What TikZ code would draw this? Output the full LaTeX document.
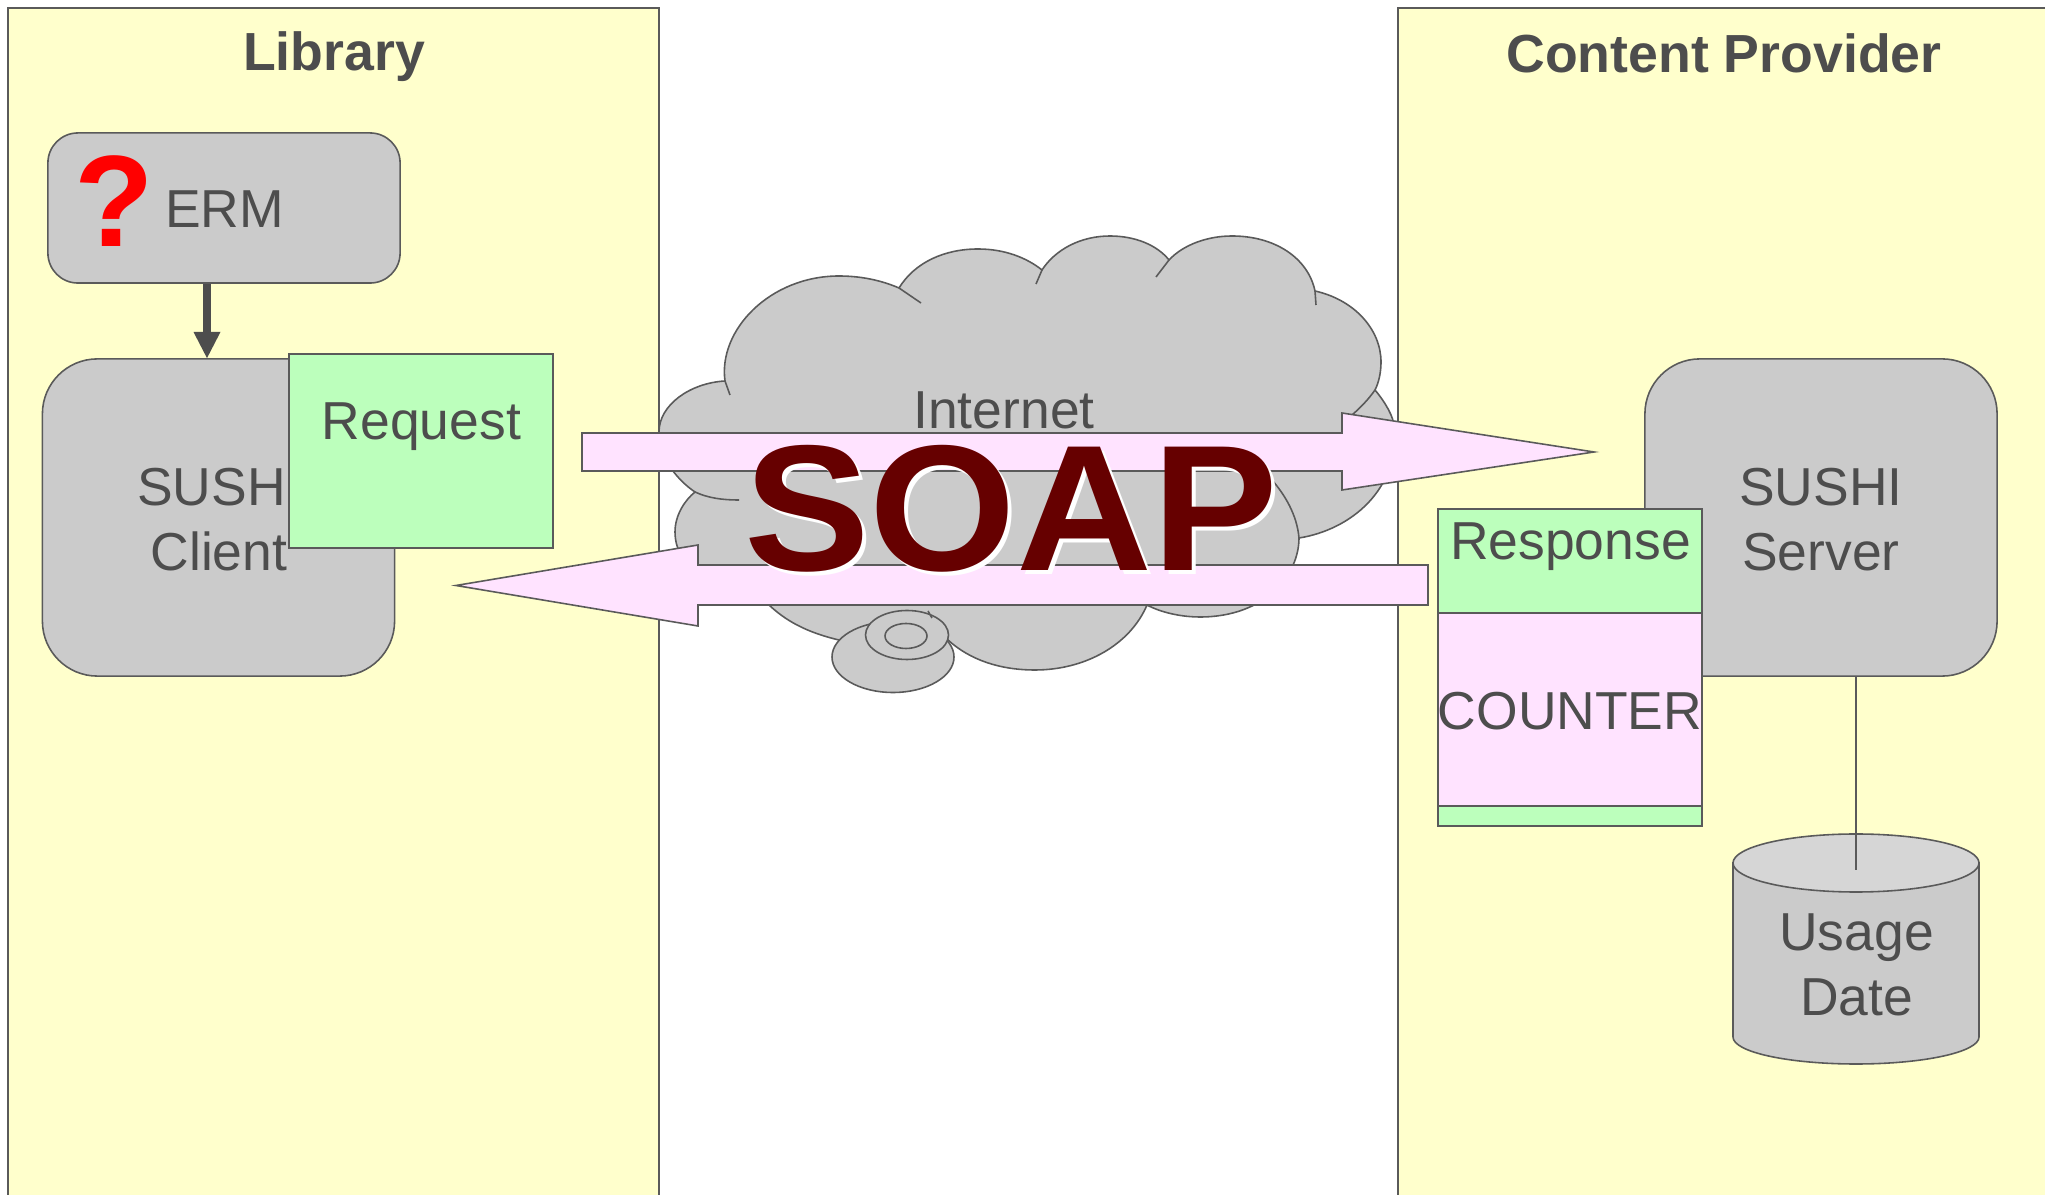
\documentclass[tikz,border=0pt]{standalone}
\usepackage{fontspec}
\setmainfont{Liberation Sans}
\usepackage{xcolor}

\definecolor{panelyellow}{HTML}{FFFFCC}
\definecolor{edgegrey}{HTML}{5A5A5A}
\definecolor{textgrey}{HTML}{4D4D4D}
\definecolor{boxgrey}{HTML}{CBCBCB}
\definecolor{topgrey}{HTML}{D6D6D6}
\definecolor{msggreen}{HTML}{BCFFBC}
\definecolor{msgpink}{HTML}{FFE3FF}
\definecolor{soapred}{HTML}{660000}

\tikzset{
  outline/.style={draw=edgegrey, line width=0.45pt},
  panel/.style={outline, fill=panelyellow},
  txt/.style={text=textgrey, align=center, inner sep=0pt, font=\fontsize{15.2}{18.5}\selectfont},
  title/.style={txt, font=\fontsize{15.25}{18.5}\selectfont\bfseries},
  erm box/.style={outline, fill=boxgrey, rounded corners=0.3cm, inner sep=0pt, minimum width=3.52cm, minimum height=1.50cm},
  sushi box/.style={outline, fill=boxgrey, rounded corners=0.55cm, inner sep=0pt, minimum width=3.52cm, minimum height=3.17cm},
  msg/.style={outline, inner sep=0pt},
  block arrow/.style={outline, fill=msgpink},
  soap/.style={inner sep=0pt, font=\fontsize{51}{51}\selectfont\bfseries}
}

\begin{document}
\begin{tikzpicture}[x=0.01cm, y=-0.01cm]
\useasboundingbox (0,0) rectangle (2045,1195);

% the two sides
\draw[panel] (8,8) rectangle (659,1215);
\draw[panel] (1398,8) rectangle (2065,1215);
\node[title] (library) at (334,57) {Library};
\node[title] (provider) at (1724,53) {Content Provider};

% library side
\node[erm box] (erm) at (224,208) {};
\node[txt] (ermtext) at (224.5,209) {ERM};
\node[text=red, inner sep=0pt, font=\fontsize{37}{37}\selectfont\bfseries] (query) at (114,201) {?};
\node[sushi box] (client) at (218.5,517.5) {};
\node[txt] (clienttext) at (219,519.5) {SUSHI\\Client};
\draw[textgrey, line width=2.4pt] (erm.south -| 207,0) -- (207,335);
\fill[textgrey] (193.5,332) -- (220.5,332) -- (client.north -| 207,0) -- cycle;
\node[msg, fill=msggreen, minimum width=2.64cm, minimum height=1.94cm] (request) at (421,451) {};
\node[txt] (requesttext) at (421.5,427) {Request};

% the cloud
\draw[outline, fill=boxgrey] (725,381)
  .. controls (718,330) and (770,276) .. (839,276)
  .. controls (865,276) and (885,282) .. (899,288)
  .. controls (915,262) and (945,249) .. (978,249)
  .. controls (1005,249) and (1027,258) .. (1042,270)
  .. controls (1055,250) and (1080,236) .. (1110,236)
  .. controls (1135,236) and (1157,245) .. (1169,260)
  .. controls (1183,245) and (1207,236) .. (1232,236)
  .. controls (1275,236) and (1308,258) .. (1315,291)
  .. controls (1355,300) and (1381,330) .. (1381,362)
  .. controls (1381,372) and (1379,382) .. (1375,390)
  .. controls (1385,402) and (1394,417) .. (1394,427)
  .. controls (1400,490) and (1350,530) .. (1299,538)
  .. controls (1299,575) and (1265,617) .. (1200,617)
  .. controls (1180,617) and (1160,612) .. (1147,605)
  .. controls (1130,645) and (1085,670) .. (1035,670)
  .. controls (1000,670) and (970,660) .. (948,640)
  -- (839,640)
  .. controls (805,632) and (785,620) .. (769,605)
  .. controls (720,600) and (675,570) .. (675,532)
  .. controls (675,515) and (685,500) .. (695,492)
  .. controls (680,482) and (659,460) .. (659,432)
  .. controls (659,405) and (690,383) .. (725,381)
  -- cycle;
\draw[outline] (725,381) -- (730,395);
\draw[outline] (899,288) -- (921,303);
\draw[outline] (1042,270) -- (1036,284);
\draw[outline] (1169,260) -- (1156,277);
\draw[outline] (1315,291) -- (1316,305);
\draw[outline] (1375,390) .. controls (1368,400) and (1360,408) .. (1352,415);
\draw[outline] (1299,538) .. controls (1297,515) and (1285,495) .. (1272,480);
\draw[outline] (695,492) .. controls (708,498) and (722,500) .. (739,500);
\draw[outline, fill=boxgrey] (893,657) ellipse (61 and 35.5);
\draw[outline, fill=boxgrey] (907,635) ellipse (41.5 and 24.5);
\draw[outline] (906,636) ellipse (21 and 12.5);
\draw[outline] (928,611) -- (932,618);
\node[txt] (internet) at (1004,410) {Internet};

% block arrows
\draw[block arrow] (582,433) -- (1342,433) -- (1342,413) -- (1594,452)
  -- (1342,490) -- (1342,471) -- (582,471) -- cycle;
\draw[block arrow] (1428,565) -- (698,565) -- (698,545) -- (456,585.5)
  -- (698,626) -- (698,605) -- (1428,605) -- cycle;

% provider side
\node[sushi box] (server) at (1821,517.5) {};
\node[txt] (servertext) at (1821,519.5) {SUSHI\\Server};
\draw[outline, fill=boxgrey] (1733,863) -- (1733,1037)
  .. controls (1733,1052) and (1788,1064) .. (1856,1064)
  .. controls (1924,1064) and (1979,1052) .. (1979,1037) -- (1979,863) -- cycle;
\draw[outline, fill=topgrey] (1856,863) ellipse (123 and 29);
\coordinate (usageend) at (1856,870);
\draw[outline] (usageend) -- (usageend |- server.south);
\node[txt] (usagetext) at (1856.5,965) {Usage\\Date};
\node[msg, fill=msggreen, minimum width=2.64cm, minimum height=3.17cm] (response) at (1570,667.5) {};
\node[msg, fill=msgpink, minimum width=2.64cm, minimum height=1.93cm] (counter) at (1570,709.5) {};
\node[txt] (responsetext) at (1570.5,547) {Response};
\node[txt] (countertext) at (1570,711) {COUNTER};

% the big label
\node[soap, text=white] (soapshadow) at (1015,513) {\scalebox{1.05}[1]{SOAP}};
\node[soap, text=soapred] (soaplabel) at (1011,509) {\scalebox{1.05}[1]{SOAP}};
\end{tikzpicture}
\end{document}
